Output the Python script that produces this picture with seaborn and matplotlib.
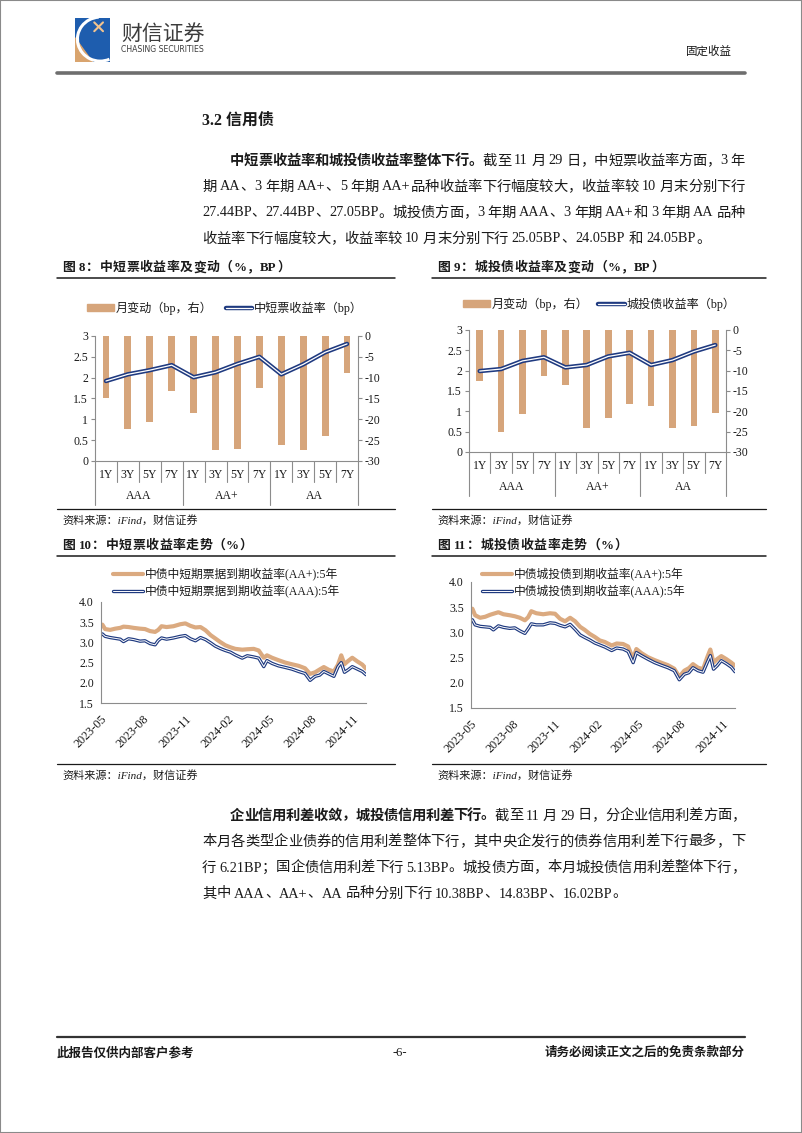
import matplotlib
matplotlib.use("Agg")
import matplotlib.pyplot as plt
from matplotlib.patches import Patch, Rectangle, Polygon, Arc
from matplotlib.lines import Line2D
from matplotlib.ticker import FormatStrFormatter, FuncFormatter
from matplotlib.transforms import blended_transform_factory
import seaborn as sns
import numpy as np
import pandas as pd

W, H = 802, 1133

# ---- data: fig 8 / fig 9 (grade x tenor) ----
tenors = ["1Y", "3Y", "5Y", "7Y"] * 3
grades = ["AAA"] * 4 + ["AA+"] * 4 + ["AA"] * 4
mtn_yield = [1.92, 2.08, 2.18, 2.30, 2.01, 2.13, 2.33, 2.50, 2.08, 2.32, 2.61, 2.81]
mtn_chg = [-15.0, -22.4, -20.6, -13.1, -18.6, -27.44, -27.05, -12.6, -26.2, -27.44, -24.1, -9.0]
lgfv_yield = [1.99, 2.04, 2.24, 2.33, 2.08, 2.14, 2.35, 2.44, 2.14, 2.26, 2.47, 2.63]
lgfv_chg = [-12.6, -25.05, -20.6, -11.4, -13.6, -24.05, -21.6, -18.3, -18.6, -24.05, -23.7, -20.3]

# ---- data: fig 10 / fig 11 (5Y yields) ----
dates = ["2023-05-04", "2023-05-10", "2023-05-21", "2023-06-01", "2023-06-12", "2023-06-19",
         "2023-06-30", "2023-07-11", "2023-07-25", "2023-08-05", "2023-08-16", "2023-08-27",
         "2023-09-03", "2023-09-10", "2023-09-21", "2023-10-06", "2023-10-21", "2023-11-01",
         "2023-11-12", "2023-11-23", "2023-12-04", "2023-12-15", "2023-12-26", "2024-01-05",
         "2024-01-16", "2024-01-27", "2024-02-07", "2024-02-18", "2024-03-04", "2024-03-15",
         "2024-03-29", "2024-04-09", "2024-04-20", "2024-04-27", "2024-05-08", "2024-05-22",
         "2024-06-06", "2024-06-20", "2024-07-05", "2024-07-19", "2024-07-30", "2024-08-10",
         "2024-08-20", "2024-08-29", "2024-09-09", "2024-09-20", "2024-09-29", "2024-10-06",
         "2024-10-13", "2024-10-21", "2024-10-30", "2024-11-10", "2024-11-21", "2024-11-29"]
mtn_aap = [3.44, 3.33, 3.31, 3.34, 3.36, 3.39, 3.38, 3.36, 3.34, 3.33, 3.28, 3.26, 3.31, 3.40,
           3.38, 3.40, 3.45, 3.47, 3.41, 3.37, 3.38, 3.30, 3.18, 3.10, 3.01, 2.93, 2.88, 2.84,
           2.82, 2.83, 2.84, 2.80, 2.62, 2.68, 2.62, 2.56, 2.50, 2.46, 2.42, 2.36, 2.22, 2.26,
           2.33, 2.39, 2.32, 2.28, 2.45, 2.68, 2.46, 2.54, 2.62, 2.53, 2.45, 2.35]
mtn_aaa = [3.21, 3.15, 3.12, 3.10, 3.08, 3.02, 3.09, 3.07, 3.03, 3.04, 2.97, 2.94, 3.05, 3.11,
           3.08, 3.11, 3.15, 3.17, 3.09, 3.04, 3.12, 3.07, 2.99, 2.91, 2.85, 2.80, 2.76, 2.69,
           2.61, 2.67, 2.64, 2.61, 2.40, 2.55, 2.48, 2.42, 2.38, 2.34, 2.28, 2.23, 2.06, 2.16,
           2.19, 2.28, 2.22, 2.16, 2.40, 2.50, 2.26, 2.32, 2.40, 2.34, 2.28, 2.20]
lgfv_aap = [3.47, 3.34, 3.29, 3.31, 3.35, 3.37, 3.40, 3.36, 3.34, 3.32, 3.29, 3.24, 3.30, 3.42,
            3.38, 3.36, 3.38, 3.37, 3.27, 3.22, 3.29, 3.22, 3.11, 3.05, 2.97, 2.91, 2.84, 2.81,
            2.74, 2.78, 2.77, 2.72, 2.47, 2.67, 2.59, 2.51, 2.45, 2.40, 2.35, 2.28, 2.12, 2.24,
            2.29, 2.37, 2.30, 2.27, 2.50, 2.66, 2.40, 2.47, 2.53, 2.47, 2.40, 2.34]
lgfv_aaa = [3.25, 3.15, 3.12, 3.11, 3.10, 3.05, 3.13, 3.10, 3.08, 3.09, 3.03, 2.98, 3.07, 3.17,
            3.15, 3.15, 3.19, 3.18, 3.14, 3.11, 3.16, 3.06, 2.95, 2.90, 2.85, 2.79, 2.75, 2.71,
            2.64, 2.69, 2.67, 2.62, 2.40, 2.60, 2.54, 2.47, 2.40, 2.35, 2.30, 2.24, 2.06, 2.17,
            2.20, 2.30, 2.24, 2.21, 2.40, 2.54, 2.27, 2.34, 2.44, 2.38, 2.31, 2.22]
month_ticks = ["2023-05", "2023-08", "2023-11", "2024-02", "2024-05", "2024-08", "2024-11"]

TAN = "#D6A57B"
TAN_LINE = "#DBAA80"
NAVY = "#1F3A80"
GRAY = "#8C8C8C"
INK = "#1a1a1a"

sns.set_theme(style="white")
plt.rcParams['font.family'] = ['Liberation Serif', 'Noto Sans CJK SC']
plt.rcParams['axes.unicode_minus'] = False
plt.rcParams['text.color'] = INK

fig = plt.figure(figsize=(W / 100, H / 100), dpi=100)
renderer = fig.canvas.get_renderer()


def add_ax(x0, y0, x1, y1):
    return fig.add_axes([x0 / W, 1 - y1 / H, (x1 - x0) / W, (y1 - y0) / H])


def put(x, y, s, size=10.3, weight="normal", ha="left", va="center", **kw):
    return fig.text(x / W, 1 - y / H, s, fontsize=size, fontweight=weight, ha=ha, va=va, **kw)


def hline(x0, x1, y, lw=1.0, color=INK):
    fig.add_artist(Line2D([x0 / W, x1 / W], [1 - y / H, 1 - y / H], lw=lw, color=color))


def tokens(s):
    out, buf = [], ""
    for ch in s:
        if ch.isascii() and ch != " ":
            buf += ch
        else:
            if buf:
                out.append(buf)
                buf = ""
            out.append(ch)
    if buf:
        out.append(buf)
    return out


def text_line(x0, x1, y, segs, size=10.3, justify=True):
    items = [(tk, wt) for s, wt in segs for tk in tokens(s)]
    widths = []
    for tk, wt in items:
        if tk == " ":
            widths.append(size * 100 / 72 * 0.25)
        else:
            t = fig.text(0, 0, tk, fontsize=size, fontweight=wt)
            widths.append(t.get_window_extent(renderer).width)
            t.remove()
    gap = (x1 - x0 - sum(widths)) / (len(items) - 1) if justify else 0
    x = x0
    for (tk, wt), w in zip(items, widths):
        if tk != " ":
            put(x, y, tk, size=size, weight=wt)
        x += w + gap


# ---- page frame, header ----
fig.add_artist(Rectangle((0, 0), 1, 1, transform=fig.transFigure, fill=False,
                         edgecolor="#8a8a8a", lw=1.5))
lg = add_ax(75, 18, 110, 62)
lg.set_xlim(0, 1)
lg.set_ylim(0, 1)
lg.axis("off")
lg.add_patch(Rectangle((0, 0), 1, 1, color="#1E5DAE"))
lg.add_patch(Polygon([[0, 0], [0.5, 0], [0, 0.55]], color="#D9A46E"))
arc = Arc((0.72, 0.52), 1.3, 1.0, theta1=95, theta2=300, color="white", lw=2.2)
lg.add_patch(arc)
arc.set_clip_path(lg.patches[0])
lg.plot([0.55, 0.8], [0.7, 0.9], color="#F2C38E", lw=1.5)
lg.plot([0.55, 0.8], [0.9, 0.7], color="#F2C38E", lw=1.5)
put(121, 34, "财信证券", size=15, family=["Noto Sans CJK SC"], color="#3c3c3c")
put(121, 50, "CHASING SECURITIES", size=5.6, family=["DejaVu Sans"], color="#3c3c3c")
put(732, 52, "固定收益", size=8.3, ha="right")
hline(57, 745, 73, lw=2.6, color="#6e6e6e")

# ---- section text ----
put(202, 121, "3.2 信用债", size=11.5, weight="bold")
text_line(230, 745, 161, [("中短票收益率和城投债收益率整体下行。", "bold"),
                          ("截至 11 月 29 日，中短票收益率方面，3 年", "normal")])
text_line(202, 745, 187, [("期 AA、3 年期 AA+、5 年期 AA+品种收益率下行幅度较大，收益率较 10 月末分别下行", "normal")])
text_line(202, 745, 213, [("27.44BP、27.44BP、27.05BP。城投债方面，3 年期 AAA、3 年期 AA+和 3 年期 AA 品种", "normal")])
text_line(202, 745, 239, [("收益率下行幅度较大，收益率较 10 月末分别下行 25.05BP、24.05BP 和 24.05BP。", "normal")],
          justify=False)

text_line(230, 745, 816, [("企业信用利差收敛，城投债信用利差下行。", "bold"),
                          ("截至 11 月 29 日，分企业信用利差方面，", "normal")])
text_line(202, 745, 842, [("本月各类型企业债券的信用利差整体下行，其中央企发行的债券信用利差下行最多，下", "normal")])
text_line(202, 745, 868, [("行 6.21BP；国企债信用利差下行 5.13BP。城投债方面，本月城投债信用利差整体下行，", "normal")])
text_line(202, 745, 894, [("其中 AAA、AA+、AA 品种分别下行 10.38BP、14.83BP、16.02BP。", "normal")],
          justify=False)

# ---- figure titles, rules, sources ----
text_line(62, 290, 268, [("图 8：中短票收益率及变动（%，BP）", "bold")], size=9.3)
text_line(437, 664, 268, [("图 9：城投债收益率及变动（%，BP）", "bold")], size=9.3)
text_line(62, 252, 546, [("图 10：中短票收益率走势（%）", "bold")], size=9.3)
text_line(437, 627, 546, [("图 11：城投债收益率走势（%）", "bold")], size=9.3)
for y in (278, 556):
    hline(57, 395, y, lw=1.1)
    hline(432, 766, y, lw=1.1)
for y, ys in ((509, 520), (764, 775)):
    hline(57, 395, y, lw=0.9)
    hline(432, 766, y, lw=0.9)
    put(62, ys, "资料来源：iFind，财信证券", size=8, style="italic")
    put(437, ys, "资料来源：iFind，财信证券", size=8, style="italic")


# ---- bar + line combo charts ----
def combo_chart(box, chg, yld, line_label, legend_x, legend_y, colspace):
    df = pd.DataFrame({"grade": grades, "tenor": tenors, "chg": chg, "yield": yld})
    df["key"] = df["grade"] + " " + df["tenor"]
    df["pos"] = np.arange(len(df))
    n = len(df)
    ax = add_ax(*box)
    sns.barplot(data=df, x="key", y="chg", color=TAN, width=0.31, saturation=1,
                linewidth=0, ax=ax)
    ax.set_ylim(-30, 0)
    ax.set_yticks(np.arange(-30, 1, 5))
    ax.yaxis.set_major_formatter(FuncFormatter(lambda v, p: "%g" % v))
    ax2 = ax.twinx()
    sns.lineplot(data=df, x="pos", y="yield", color=NAVY, lw=3.2, ax=ax2)
    sns.lineplot(data=df, x="pos", y="yield", color="white", lw=0.9, ax=ax2)
    ax2.set_ylim(0, 3)
    ax2.set_yticks(np.arange(0, 3.01, 0.5))
    ax2.yaxis.set_major_formatter(FuncFormatter(lambda v, p: "%g" % v))
    ax.set_xlim(-0.5, n - 0.5)
    ax.yaxis.tick_right()
    ax2.yaxis.tick_left()
    for a in (ax, ax2):
        a.set_xlabel("")
        a.set_ylabel("")
        a.set_xticks([])
        a.tick_params(axis="y", length=3, width=0.8, color=GRAY, pad=2, labelsize=8.5,
                      labelcolor=INK)
    for side in ("left", "right", "bottom"):
        ax.spines[side].set_color(GRAY)
        ax.spines[side].set_linewidth(0.8)
    ax.spines["top"].set_visible(False)
    for s in ax2.spines.values():
        s.set_visible(False)
    hpx = box[3] - box[1]
    trans = blended_transform_factory(ax.transData, ax.transAxes)
    for i, t in enumerate(tenors):
        ax.text(i, -14 / hpx, t, transform=trans, ha="center", va="center", fontsize=8.5)
    for i in range(n + 1):
        edge = i == 0 or i == n or grades[i] != grades[i - 1]
        depth = 44 if edge else 21
        ax.plot([i - 0.5, i - 0.5], [0, -depth / hpx], transform=trans, color=GRAY,
                lw=0.8, clip_on=False)
    for g in dict.fromkeys(grades):
        idx = [i for i, gg in enumerate(grades) if gg == g]
        ax.text(np.mean(idx), -35 / hpx, g, transform=trans, ha="center", va="center",
                fontsize=8.5)
    handles = [Patch(color=TAN),
               (Line2D([], [], color=NAVY, lw=3.2), Line2D([], [], color="white", lw=0.9))]
    fig.legend(handles, ["月变动（bp，右）", line_label], loc="center left",
               bbox_to_anchor=(legend_x / W, 1 - legend_y / H), ncol=2, frameon=False,
               borderpad=0, borderaxespad=0, handlelength=2.2, handleheight=0.55,
               handletextpad=0.15, columnspacing=colspace, fontsize=8.7)


combo_chart((95, 336, 358, 461), mtn_chg, mtn_yield, "中短票收益率（bp）", 87, 308, 1.1)
combo_chart((469, 330, 726, 452), lgfv_chg, lgfv_yield, "城投债收益率（bp）", 463, 304, 0.8)


# ---- yield trend charts ----
def trend_chart(box, aap, aaa, labels, legend_x, legend_y):
    df = pd.DataFrame({"date": pd.to_datetime(dates), "aap": aap, "aaa": aaa})
    ax = add_ax(*box)
    sns.lineplot(data=df, x="date", y="aap", color=TAN_LINE, lw=3.0, ax=ax)
    sns.lineplot(data=df, x="date", y="aaa", color=NAVY, lw=2.4, ax=ax)
    sns.lineplot(data=df, x="date", y="aaa", color="white", lw=0.7, ax=ax)
    ax.set_ylim(1.5, 4.0)
    ax.set_yticks(np.arange(1.5, 4.01, 0.5))
    ax.yaxis.set_major_formatter(FormatStrFormatter("%.1f"))
    tick_dates = pd.to_datetime([m + "-01" for m in month_ticks])
    ax.set_xticks(tick_dates)
    ax.set_xticklabels(month_ticks, rotation=45, ha="right", va="top",
                       rotation_mode="anchor")
    ax.set_xlim(tick_dates[0], df["date"].iloc[-1])
    ax.set_xlabel("")
    ax.set_ylabel("")
    ax.tick_params(length=3, width=0.8, color=GRAY, pad=2, labelsize=8.5, labelcolor=INK)
    ax.tick_params(axis="x", pad=4, labelsize=8.8)
    for side in ("left", "bottom"):
        ax.spines[side].set_color(GRAY)
        ax.spines[side].set_linewidth(0.8)
    for side in ("top", "right"):
        ax.spines[side].set_visible(False)
    handles = [Line2D([], [], color=TAN_LINE, lw=3.0),
               (Line2D([], [], color=NAVY, lw=2.4), Line2D([], [], color="white", lw=0.7))]
    fig.legend(handles, labels, loc="upper left",
               bbox_to_anchor=(legend_x / W, 1 - legend_y / H), ncol=1, frameon=False,
               borderpad=0, borderaxespad=0, handlelength=2.5, handletextpad=0.2,
               labelspacing=0.35, fontsize=8.5)


trend_chart((101, 602, 366, 703), mtn_aap, mtn_aaa,
            ["中债中短期票据到期收益率(AA+):5年", "中债中短期票据到期收益率(AAA):5年"], 113, 568)
trend_chart((471, 582, 735, 708), lgfv_aap, lgfv_aaa,
            ["中债城投债到期收益率(AA+):5年", "中债城投债到期收益率(AAA):5年"], 482, 568)

# ---- footer ----
hline(57, 745, 1037, lw=1.6, color="#333333")
put(57, 1053, "此报告仅供内部客户参考", size=9, weight="bold")
put(400, 1053, "-6-", size=9, ha="center")
put(745, 1053, "请务必阅读正文之后的免责条款部分", size=9, weight="bold", ha="right")

fig.savefig("out.png", dpi=100, facecolor="white")
